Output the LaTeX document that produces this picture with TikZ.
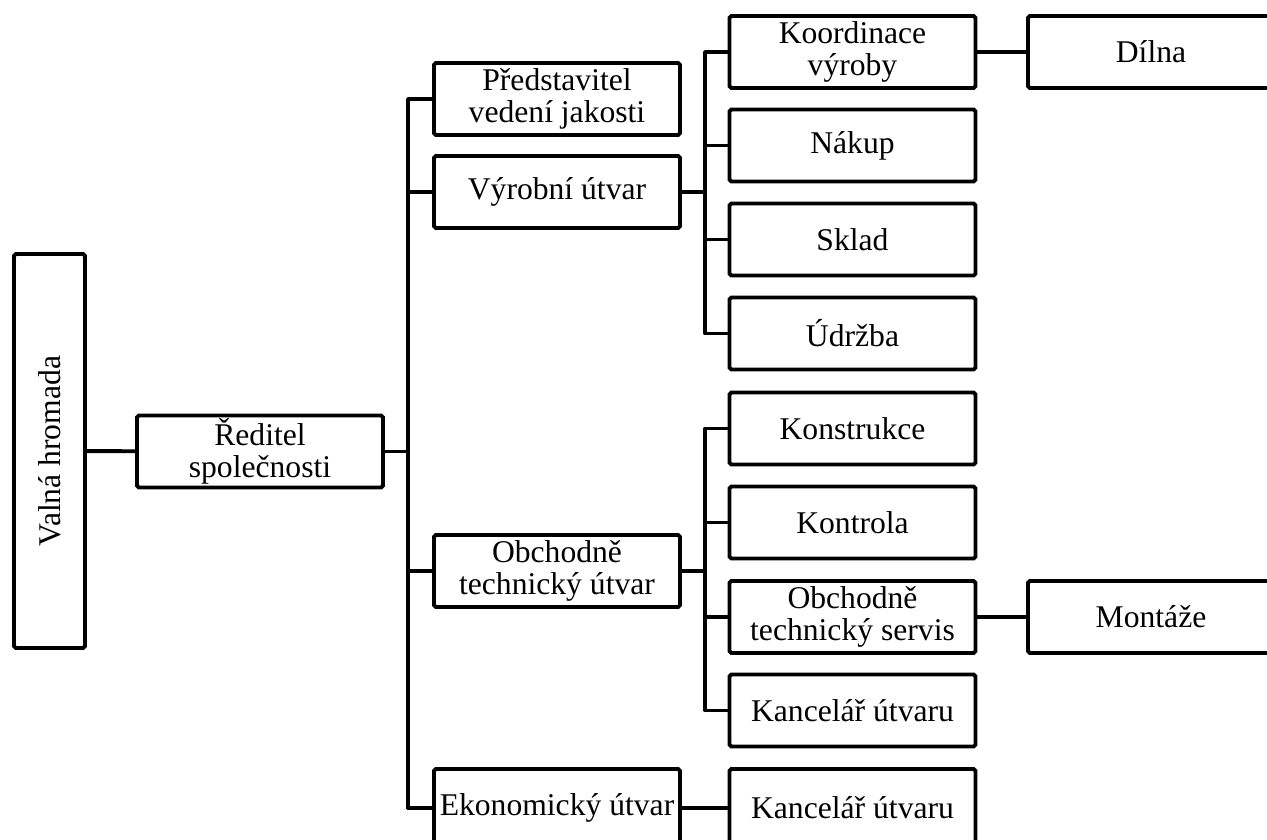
\documentclass[tikz,border=0pt]{standalone}
\usepackage{fontspec}
\setmainfont{Liberation Serif}
\usepackage{graphicx}

\begin{document}
\begin{tikzpicture}[
        x=0.02cm, y=-0.02cm,
        unit/.style={
            draw,
            line width=2.2pt,
            rounded corners=1pt,
            align=center,
            minimum width=4.92cm,
            minimum height=1.44cm,
            inner sep=1pt,
            font=\fontsize{18}{18.2}\selectfont
        },
        link/.style={line width=2.2pt, line join=round}
    ]
        \useasboundingbox (0,0) rectangle (1267,839);
        \clip (0,0) rectangle (1267,839);

        \node[unit, minimum width=1.42cm, minimum height=7.88cm] (valna) at (49.5,451) {\rotatebox{90}{Valná hromada}};
        \node[unit] (reditel) at (260,451.5) {Ředitel\\společnosti};

        \node[unit] (jakost) at (557,99) {Představitel\\vedení jakosti};
        \node[unit] (vyroba) at (557,192) {Výrobní útvar};
        \node[unit] (obchod) at (557,571) {Obchodně\\technický útvar};
        \node[unit, minimum height=1.56cm] (ekonom) at (557,808) {Ekonomický útvar};

        \node[unit] (koord) at (852.5,52) {Koordinace\\výroby};
        \node[unit] (nakup) at (852.5,145.5) {Nákup};
        \node[unit] (sklad) at (852.5,239.5) {Sklad};
        \node[unit] (udrzba) at (852.5,333.5) {Údržba};
        \node[unit] (konstr) at (852.5,428.5) {Konstrukce};
        \node[unit] (kontrola) at (852.5,522.5) {Kontrola};
        \node[unit] (servis) at (852.5,617) {Obchodně\\technický servis};
        \node[unit] (kancOT) at (852.5,710.5) {Kancelář útvaru};
        \node[unit, minimum height=1.56cm] (kancEK) at (852.5,808) {Kancelář útvaru};

        \node[unit] (dilna) at (1151,52) {Dílna};
        \node[unit] (montaze) at (1151,617) {Montáže};

        \coordinate (hub) at (408,451.5);
        \coordinate (vhub) at (705,192);
        \coordinate (ohub) at (705,571);

        \draw[link] (valna) -- (reditel);
        \draw[link] (reditel) -- (hub);
        \foreach \n in {jakost, vyroba, obchod, ekonom}
            \draw[link] (hub) |- (\n.west);

        \draw[link] (vyroba) -- (vhub);
        \foreach \n in {koord, nakup, sklad, udrzba}
            \draw[link] (vhub) |- (\n.west);

        \draw[link] (obchod) -- (ohub);
        \foreach \n in {konstr, kontrola, servis, kancOT}
            \draw[link] (ohub) |- (\n.west);

        \draw[link] (ekonom) -- (kancEK);
        \draw[link] (koord) -- (dilna);
        \draw[link] (servis) -- (montaze);
    \end{tikzpicture}
\end{document}
